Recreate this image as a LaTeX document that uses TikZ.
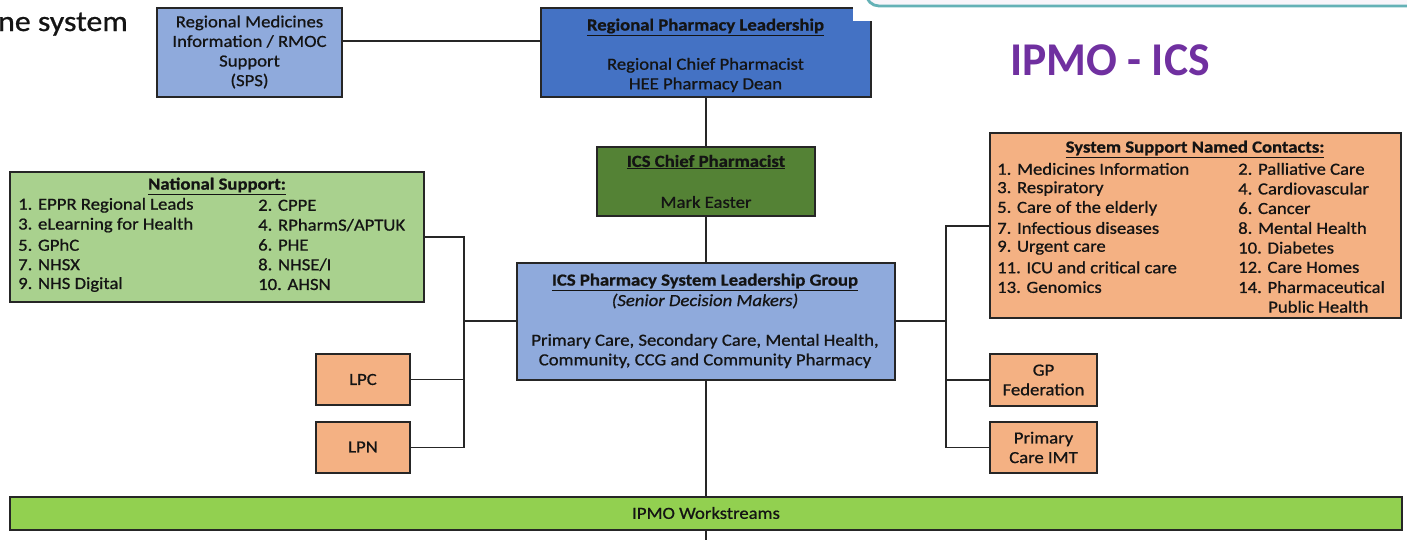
\documentclass[tikz,border=0pt]{standalone}
\usepackage{fontspec}
\setmainfont{Carlito}[FakeStretch=1.1,FakeBold=0.8]
\newfontfamily\titlefont{Carlito}[FakeStretch=0.97]
\definecolor{lblue}{HTML}{8FAADC}
\definecolor{mblue}{HTML}{4472C4}
\definecolor{dgreen}{HTML}{548235}
\definecolor{lgreen}{HTML}{A9D18E}
\definecolor{bgreen}{HTML}{92D050}
\definecolor{orng}{HTML}{F4B183}
\definecolor{purp}{HTML}{7030A0}
\definecolor{tealb}{HTML}{64B1B6}
\definecolor{ink}{HTML}{141414}
\definecolor{boxline}{HTML}{262626}
\begin{document}
\begin{tikzpicture}[x=1pt,y=-1pt,
  box/.style={draw=boxline,line width=1.3pt,anchor=north west,inner sep=0pt,outer sep=0pt},
  lbl/.style={inner sep=0pt,text=ink,align=center,font=\fontsize{17}{19.6}\selectfont},
  hd/.style={inner sep=0pt,text=ink,font=\fontsize{17}{19.6}\selectfont\bfseries},
  item/.style={inner sep=0pt,text=ink,anchor=west,font=\fontsize{17}{19.6}\selectfont},
  wire/.style={line width=1.3pt,draw=boxline}]

\useasboundingbox (0,0) rectangle (1407,539);

% white notch over the top right corner of the regional box (drawn first, under the panel)
\coordinate (notchA) at (853,-2);
\coordinate (notchB) at (876,21);

% boxes
\node[box,fill=lblue,minimum width=185pt,minimum height=89pt] (rmi) at (157,8) {};
\node[box,fill=mblue,minimum width=330pt,minimum height=89pt] (rpl) at (541,8) {};
\fill[white] (notchA) rectangle (notchB);
\node[box,fill=dgreen,minimum width=218pt,minimum height=69pt] (chief) at (597,147) {};
\node[box,fill=lblue,minimum width=378pt,minimum height=117pt] (slg) at (517,263) {};
\node[box,fill=lgreen,minimum width=414pt,minimum height=130pt] (nat) at (10,172) {};
\node[box,fill=orng,minimum width=94pt,minimum height=51pt] (lpc) at (316,354) {};
\node[box,fill=orng,minimum width=94pt,minimum height=51pt] (lpn) at (316,422) {};
\node[box,fill=orng,minimum width=411pt,minimum height=185pt] (ssc) at (990,133) {};
\node[box,fill=orng,minimum width=107pt,minimum height=52pt] (gpf) at (990,354) {};
\node[box,fill=orng,minimum width=107pt,minimum height=51pt] (pci) at (990,422) {};
\node[box,fill=bgreen,minimum width=1392pt,minimum height=33pt] (ws) at (10,497) {};

% header panel at the top right
\draw[draw=tealb,line width=2.8pt,fill=white!95!purp,rounded corners=13pt]
  (866,-40) rectangle (1440,6);
\node[inner sep=0pt,text=purp,font=\titlefont\fontsize{47}{50}\selectfont\bfseries] (title) at (1110,60) {IPMO - ICS};
\node[inner sep=0pt,anchor=base east,text=ink,font=\fontsize{29}{30}\selectfont] (sys) at (128,31) {ne system};

% connectors
\coordinate (lbus) at (464,321);
\coordinate (rbus) at (946,321);
\draw[wire] (rmi.east |- 0,41) -- (rpl.west |- 0,41);
\draw[wire] (rpl.south) -- (chief.north);
\draw[wire] (chief.south) -- (slg.north);
\draw[wire] (slg.south) -- (ws.north -| slg.south);
\draw[wire] (ws.south -| slg.south) -- (706,545);
\draw[wire] (nat.east |- 0,237) -| (lbus |- lpn.east) -- (lpn.east);
\draw[wire] (lpc.east) -- (lpc.east -| lbus);
\draw[wire] (lbus) -- (slg.west |- lbus);
\draw[wire] (ssc.west |- 0,226) -| (rbus |- pci.west) -- (pci.west);
\draw[wire] (gpf.west) -- (gpf.west -| rbus);
\draw[wire] (rbus) -- (slg.east |- rbus);

% texts
\node[lbl] (rmit) at (249.5,52) {Regional Medicines\\Information / RMOC\\Support\\(SPS)};
\node[hd] (rplh) at (705.5,27) {\underline{Regional Pharmacy Leadership}};
\node[lbl] (rplt) at (705.5,75) {Regional Chief Pharmacist\\HEE Pharmacy Dean};
\node[hd] (chiefh) at (706,162) {\underline{ICS Chief Pharmacist}};
\node[lbl] (chieft) at (706,202) {Mark Easter};
\node[hd] (slgh) at (705,282) {\underline{ICS Pharmacy System Leadership Group}};
\node[lbl,font=\fontsize{17}{19.6}\selectfont\itshape] (slgi) at (705,301) {(Senior Decision Makers)};
\node[lbl] (slgt) at (705,351) {Primary Care, Secondary Care, Mental Health,\\Community, CCG and Community Pharmacy};
\node[lbl] (lpct) at (363,379.5) {LPC};
\node[lbl] (lpnt) at (363,447) {LPN};
\node[lbl] (gpft) at (1043.5,380) {GP\\Federation};
\node[lbl] (pcit) at (1043.5,447.5) {Primary\\Care IMT};
\node[lbl] (wst) at (706,513) {IPMO Workstreams};

\node[hd] (nath) at (217,186) {\underline{National Support:}};
\foreach \t/\u [count=\i] in {1. EPPR Regional Leads/2. CPPE,3. eLearning for Health/4. RPharmS\slash APTUK,5. GPhC/6. PHE,7. NHSX/8. NHSE\slash I,9. NHS Digital/10. AHSN}{
  \node[item] (na\i) at (18,185.5+19.8*\i) {\t};
  \node[item] (nb\i) at (258,185.5+19.8*\i) {\u};
}

\node[hd] (ssch) at (1195,149) {\underline{System Support Named Contacts:}};
\foreach \t/\u [count=\i] in {1. Medicines Information/2. Palliative Care,3. Respiratory/4. Cardiovascular,5. Care of the elderly/6. Cancer,7. Infectious diseases/8. Mental Health,9. Urgent care/10. Diabetes,11. ICU and critical care/12. Care Homes,13. Genomics/14. Pharmaceutical}{
  \node[item] (sa\i) at (997,149.2+19.7*\i) {\t};
  \node[item] (sb\i) at (1238,149.2+19.7*\i) {\u};
}
\node[item] (sb8) at (1268,306.8) {Public Health};
\end{tikzpicture}
\end{document}
